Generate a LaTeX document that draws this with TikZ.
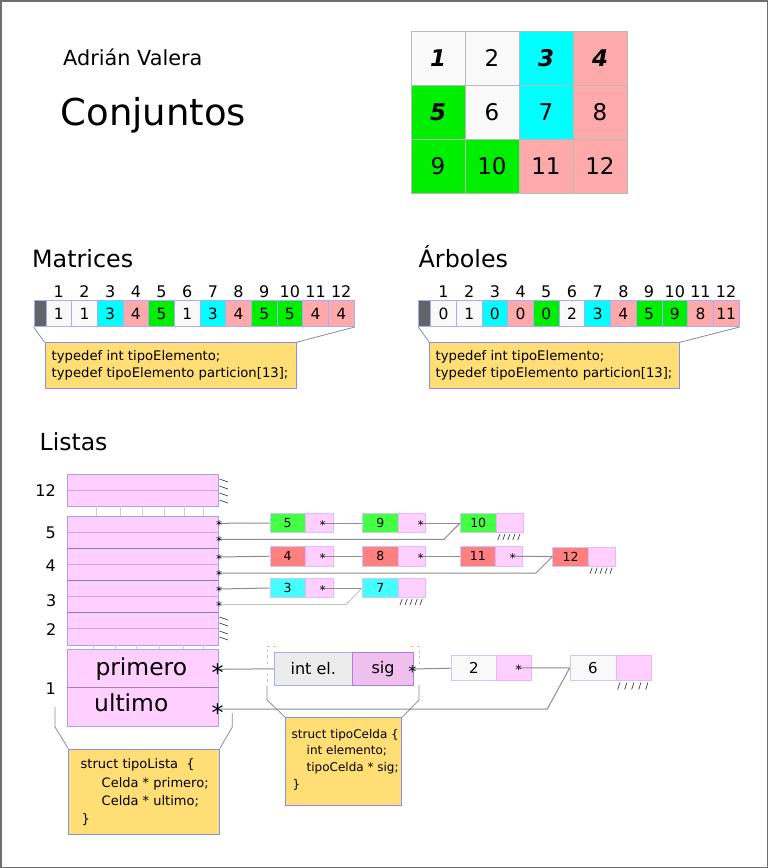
\documentclass[tikz,border=0pt]{standalone}
\usepackage{fontspec}
\setmainfont{DejaVu Sans}
\usetikzlibrary{calc}
\definecolor{cellw}{RGB}{249,249,249}
\definecolor{gcyan}{RGB}{0,255,255}
\definecolor{gpink}{RGB}{255,170,170}
\definecolor{ggreen}{RGB}{0,238,0}
\definecolor{ybox}{RGB}{255,222,117}
\definecolor{ybord}{RGB}{140,140,238}
\definecolor{abord}{RGB}{170,170,255}
\definecolor{dcell}{RGB}{100,100,100}
\definecolor{lpink}{RGB}{255,208,255}
\definecolor{lpbord}{RGB}{225,185,255}
\definecolor{lbord}{RGB}{160,160,255}
\definecolor{lsep}{RGB}{120,120,255}
\definecolor{lmid}{RGB}{205,165,215}
\definecolor{nred}{RGB}{255,128,128}
\definecolor{ncyan}{RGB}{68,255,255}
\definecolor{ngreen}{RGB}{68,255,68}
\definecolor{nbord}{RGB}{200,200,250}
\definecolor{igray}{RGB}{236,236,236}
\definecolor{isig}{RGB}{238,192,238}
\definecolor{isbord}{RGB}{175,125,230}
\definecolor{conncol}{RGB}{140,140,140}
\definecolor{framecol}{RGB}{110,110,110}
\newcommand{\fsz}[2]{\fontsize{#1pt}{#2pt}\selectfont}
\begin{document}
\begin{tikzpicture}[x=1pt,y=-1pt,
  gcell/.style={draw=gray!55, line width=0.6pt, minimum width=54pt, minimum height=54pt, inner sep=0pt, font={\fsz{23}{27}}, text height=16.8pt, text depth=0pt},
  acell/.style={draw=abord, line width=0.8pt, minimum width=25.67pt, minimum height=26pt, inner sep=0pt, font={\fsz{15.5}{18}}, text height=11.2pt, text depth=0pt},
  idx/.style={font={\fsz{16}{19}}, inner sep=0pt, text height=11.7pt, text depth=0pt},
  ybx/.style={draw=ybord, fill=ybox, line width=0.8pt, inner sep=0pt},
  title/.style={inner sep=0pt, anchor=base west},
  blk/.style={draw=lbord, fill=lpink, line width=0.8pt, minimum width=151pt, inner sep=0pt},
  midl/.style={draw=lmid, line width=0.8pt},
  sepl/.style={draw=lsep, line width=0.9pt},
  tick/.style={draw=gray!40, line width=0.8pt},
  hatch/.style={draw=black!75, line width=0.7pt},
  lbl/.style={font={\fsz{16}{19}}, inner sep=0pt, anchor=east, text height=11.7pt, text depth=0pt},
  lc/.style={draw=nbord, line width=0.6pt, minimum height=19.5pt, inner sep=0pt, font={\fsz{12.5}{15}}, text height=9pt, text depth=0pt},
  lp/.style={lc, fill=lpink, draw=lpbord},
  ast/.style={font={\fsz{12}{14}}, inner sep=0pt, anchor=base, yshift=-6.2pt},
  bigast/.style={font={\fsz{24}{28}}, inner sep=0pt, anchor=base, yshift=-12.2pt},
  conn/.style={draw=conncol, line width=1pt},
  brk/.style={draw=gray!90, line width=0.8pt},
  dbrk/.style={draw=gray!45, line width=0.8pt, dashed}
]
\useasboundingbox (0,0) rectangle (768,868);
\draw[framecol, line width=1.5pt] (0.75,0.75) rectangle (767.25,867.25);

% titles
\node[title, font={\fsz{20.8}{25}}] (autor) at (63,65) {Adrián Valera};
\node[title, font={\fsz{37}{44}}] (conj) at (60.5,125) {Conjuntos};

% grid
\node[gcell, fill=cellw] (g11) at (438,58) {\bfseries\itshape 1};
\node[gcell, fill=cellw] (g12) at (492,58) {2};
\node[gcell, fill=gcyan] (g13) at (546,58) {\bfseries\itshape 3};
\node[gcell, fill=gpink] (g14) at (600,58) {\bfseries\itshape 4};
\node[gcell, fill=ggreen] (g21) at (438,112) {\bfseries\itshape 5};
\node[gcell, fill=cellw] (g22) at (492,112) {6};
\node[gcell, fill=gcyan] (g23) at (546,112) {7};
\node[gcell, fill=gpink] (g24) at (600,112) {8};
\node[gcell, fill=ggreen] (g31) at (438,166) {9};
\node[gcell, fill=ggreen] (g32) at (492,166) {10};
\node[gcell, fill=gpink] (g33) at (546,166) {11};
\node[gcell, fill=gpink] (g34) at (600,166) {12};

% Matrices
\node[title, font={\fsz{23.8}{28}}] (tmat) at (32,267.3) {Matrices};
\node[acell, fill=dcell, minimum width=12pt] (mh) at (40,313.7) {};
\foreach \i/\v/\col in {1/1/cellw,2/1/cellw,3/3/gcyan,4/4/gpink,5/5/ggreen,6/1/cellw,7/3/gcyan,8/4/gpink,9/5/ggreen,10/5/ggreen,11/4/gpink,12/4/gpink}{
  \node[acell, fill=\col] (m\i) at ({46+(\i-0.5)*25.67},313.7) {\v};
  \node[idx] (mi\i) at ({46+(\i-0.5)*25.67},292) {\i};
}
\node[ybx, minimum width=251pt, minimum height=45.3pt] (mbox) at (170.5,365.3) {};
\node[inner sep=0pt, anchor=west, align=left, font={\fsz{13.2}{17.3}}] (mtxt) at (51.5,365.3) {typedef int tipoElemento;\\typedef tipoElemento particion[13];};
\draw[brk] (mh.south west) -- (mbox.north west);
\draw[brk] (m12.south east) -- (mbox.north east);

% Arboles
\node[title, font={\fsz{23.8}{28}}] (tarb) at (418.5,267.3) {Árboles};
\node[acell, fill=dcell, minimum width=12pt] (ah) at (424.7,313.7) {};
\foreach \i/\v/\col in {1/0/cellw,2/1/cellw,3/0/gcyan,4/0/gpink,5/0/ggreen,6/2/cellw,7/3/gcyan,8/4/gpink,9/5/ggreen,10/9/ggreen,11/8/gpink,12/11/gpink}{
  \node[acell, fill=\col] (a\i) at ({430.7+(\i-0.5)*25.69},313.7) {\v};
  \node[idx] (ai\i) at ({430.7+(\i-0.5)*25.69},292) {\i};
}
\node[ybx, minimum width=250pt, minimum height=45.3pt] (abox) at (554.7,365.3) {};
\node[inner sep=0pt, anchor=west, align=left, font={\fsz{13.2}{17.3}}] (atxt) at (435.5,365.3) {typedef int tipoElemento;\\typedef tipoElemento particion[13];};
\draw[brk] (ah.south west) -- (abox.north west);
\draw[brk] (a12.south east) -- (abox.north east);

% Listas
\node[title, font={\fsz{23.5}{28}}] (tlis) at (39.5,450) {Listas};
\node[blk, minimum height=32pt] (b12) at (142.5,490) {};
\node[blk, minimum height=32pt] (b5) at (142.5,532) {};
\node[blk, minimum height=32pt] (b4) at (142.5,564) {};
\node[blk, minimum height=32pt] (b3) at (142.5,596) {};
\node[blk, minimum height=33pt] (b2) at (142.5,628.5) {};
\node[blk, minimum height=77pt] (b1) at (142.5,687.5) {};
\foreach \b in {b12,b5,b4,b3,b2}{ \draw[midl] (\b.west) -- (\b.east); }
\draw[draw=lmid!80!black, line width=0.9pt] (b1.west) -- (b1.east);
\draw[sepl] (b5.south west) -- (b5.south east);
\draw[sepl] (b4.south west) -- (b4.south east);
\draw[sepl] (b3.south west) -- (b3.south east);
\foreach \x in {96,120,142,164,184,203}{ \draw[tick] (\x,506.4) -- (\x,515.6); }
\foreach \x in {93,115,136,159,183,203}{ \draw[tick] (\x,645.4) -- (\x,648.6); }
\foreach \y in {479,486,493,500}{ \draw[hatch] (219.5,\y) -- (228,\y+3); }
\foreach \y in {617,623,631,637}{ \draw[hatch] (219.5,\y) -- (228,\y+3); }

\node[lbl] (l12) at (56,491) {12};
\node[lbl] (l5) at (56,532.7) {5};
\node[lbl] (l4) at (56,566) {4};
\node[lbl] (l3) at (56.5,600.7) {3};
\node[lbl] (l2) at (56.5,630) {2};
\node[lbl] (l1) at (56,688.3) {1};

% row 5
\node[lc, fill=ngreen, minimum width=35pt] (n5) at (287.5,523) {5};
\node[lp, minimum width=28pt] (n5p) at (319,523) {};
\node[lc, fill=ngreen, minimum width=36pt] (n9) at (380.3,523) {9};
\node[lp, minimum width=27.4pt] (n9p) at (412,523) {};
\node[lc, fill=ngreen, minimum width=35.7pt] (n10) at (478.2,523) {10};
\node[lp, minimum width=27.3pt] (n10p) at (509.7,523) {};
% row 4
\node[lc, fill=nred, minimum width=35pt] (n4) at (287.5,556.2) {4};
\node[lp, minimum width=28pt] (n4p) at (319,556.2) {};
\node[lc, fill=nred, minimum width=36pt] (n8) at (380.3,556.2) {8};
\node[lp, minimum width=27.4pt] (n8p) at (412,556.2) {};
\node[lc, fill=nred, minimum width=35.7pt] (n11) at (477.9,556.2) {11};
\node[lp, minimum width=27pt] (n11p) at (509.2,556.2) {};
\node[lc, fill=nred, minimum width=35.6pt] (n12) at (570.5,556.6) {12};
\node[lp, minimum width=27.4pt] (n12p) at (602,556.6) {};
% row 3
\node[lc, fill=ncyan, minimum width=35pt] (n3) at (287.5,588) {3};
\node[lp, minimum width=28pt] (n3p) at (319,588) {};
\node[lc, fill=ncyan, minimum width=36pt] (n7) at (380.3,588) {7};
\node[lp, minimum width=27.4pt] (n7p) at (412,588) {};

% pointer coordinates
\coordinate (s5a) at (219,523.3);
\coordinate (s5b) at (219,539.3);
\coordinate (s4a) at (219,557);
\coordinate (s4b) at (219,573);
\coordinate (s3a) at (219,589);
\coordinate (s3b) at (219,604.7);
\coordinate (c5p) at (322.7,523);
\coordinate (c9p) at (420.7,523);
\coordinate (c4p) at (322.7,556.2);
\coordinate (c8p) at (420.7,556.2);
\coordinate (c11p) at (512.7,556.2);
\coordinate (c3p) at (322.7,588);

\draw[conn] (s5a) -- (n5.west);
\draw[conn] (c5p) -- (n9.west);
\draw[conn] (c9p) -- (n10.west);
\draw[conn] (s5b) -- ++(225,0) -- (n10.west);
\draw[conn] (s4a) -- (n4.west);
\draw[conn] (c4p) -- (n8.west);
\draw[conn] (c8p) -- (n11.west);
\draw[conn] (c11p) -- (n12.west);
\draw[conn] (s4b) -- ++(317,0) -- (n12.west);
\draw[conn] (s3a) -- (n3.west);
\draw[conn] (c3p) -- (n7.west);
\draw[conn, draw=gray!45] (s3b) -- ++(127,0) -- (n7.west);

\foreach \c in {s5a,s5b,s4a,s4b,s3a,s3b,c5p,c9p,c4p,c8p,c11p,c3p}{ \node[ast] (k\c) at (\c) {*}; }

\foreach \n in {n10p,n12p,n7p}{
  \foreach \k in {0,...,4}{ \draw[hatch] ($(\n.south west)+(2+5*\k,7)$) -- ++(2.2,-6); }
}

% block 1
\node[title, font={\fsz{23.4}{28}}] (prim) at (95.3,675.7) {primero};
\node[title, font={\fsz{23.4}{28}}] (ulti) at (94,711.7) {ultimo};
\coordinate (sp) at (217.5,669.3);
\coordinate (su) at (217.7,709);

\node[draw=abord, fill=igray, line width=0.8pt, minimum width=78pt, minimum height=33pt, inner sep=0pt, font={\fsz{16}{19}}] (ce) at (313.3,668.8) {int el.\hspace{9pt}};
\node[draw=isbord, fill=isig, line width=0.8pt, minimum width=61.4pt, minimum height=33pt, inner sep=0pt, font={\fsz{16}{19}}] (cs) at (383,668.8) {sig};
\coordinate (ss) at (412.3,669);

\node[lc, fill=cellw, minimum width=45.7pt, minimum height=25pt, font={\fsz{15}{18}}, text height=11pt] (n2) at (473.85,668.2) {2};
\node[lp, minimum width=35pt, minimum height=25pt] (n2p) at (514.2,668.2) {};
\coordinate (c2p) at (518.7,668);
\node[lc, fill=cellw, minimum width=46pt, minimum height=25.7pt, font={\fsz{15}{18}}, text height=11pt] (n6) at (593,667.85) {6};
\node[lp, minimum width=35.7pt, minimum height=25.7pt] (n6p) at (633.85,667.85) {};
\foreach \k in {0,...,4}{ \draw[hatch] ($(n6p.south west)+(2+7*\k,8.5)$) -- ++(2.2,-7); }

\draw[conn] (sp) -- (ce.west);
\draw[conn] (ss) -- (n2.west);
\draw[conn] (c2p) -- (n6.west);
\draw[conn] (su) -- ++(329.6,0) -- (n6.west);

\node[bigast] (ksp) at (sp) {*};
\node[bigast] (ksu) at (su) {*};
\node[ast, font={\fsz{16}{19}}, yshift=-2pt] (kss) at (ss) {*};
\node[ast, font={\fsz{13}{15}}, yshift=-0.5pt] (kc2p) at (c2p) {*};

% struct tipoLista
\node[ybx, minimum width=150.6pt, minimum height=85.3pt] (tl) at (144,791.7) {};
\node[inner sep=0pt, anchor=west, align=left, font={\fsz{13}{18.3}}] (tltxt) at (80.5,792.5) {struct tipoLista\ \ \{\\\hspace{21pt}Celda * primero;\\\hspace{21pt}Celda * ultimo;\\\hspace{1pt}\}};
\coordinate (tla) at (55,707);
\coordinate (tlb) at (232.3,713);
\draw[brk] (tla) -- ++(0,20) -- (tl.north west);
\draw[brk] (tlb) -- ++(0,14) -- (tl.north east);

% struct tipoCelda
\node[ybx, minimum width=116pt, minimum height=88pt] (tc) at (343.7,761.7) {};
\node[inner sep=0pt, anchor=west, align=left, font={\fsz{12}{16.9}}] (tctxt) at (291.5,759.8) {struct tipoCelda \{\\\hspace{15pt}int elemento;\\\hspace{15pt}tipoCelda * sig;\\\hspace{1pt}\}};
\coordinate (tca) at (276,646);
\coordinate (tcb) at (411,646);
\draw[dbrk] (tca) -- ++(-9,0) -- ++(0,40);
\draw[brk] (267,686) -- (267,700) -- (tc.north west);
\draw[dbrk] (tcb) -- ++(8,0) -- ++(0,18);
\draw[brk] (419,685) -- (419,700) -- (tc.north east);
\end{tikzpicture}
\end{document}
